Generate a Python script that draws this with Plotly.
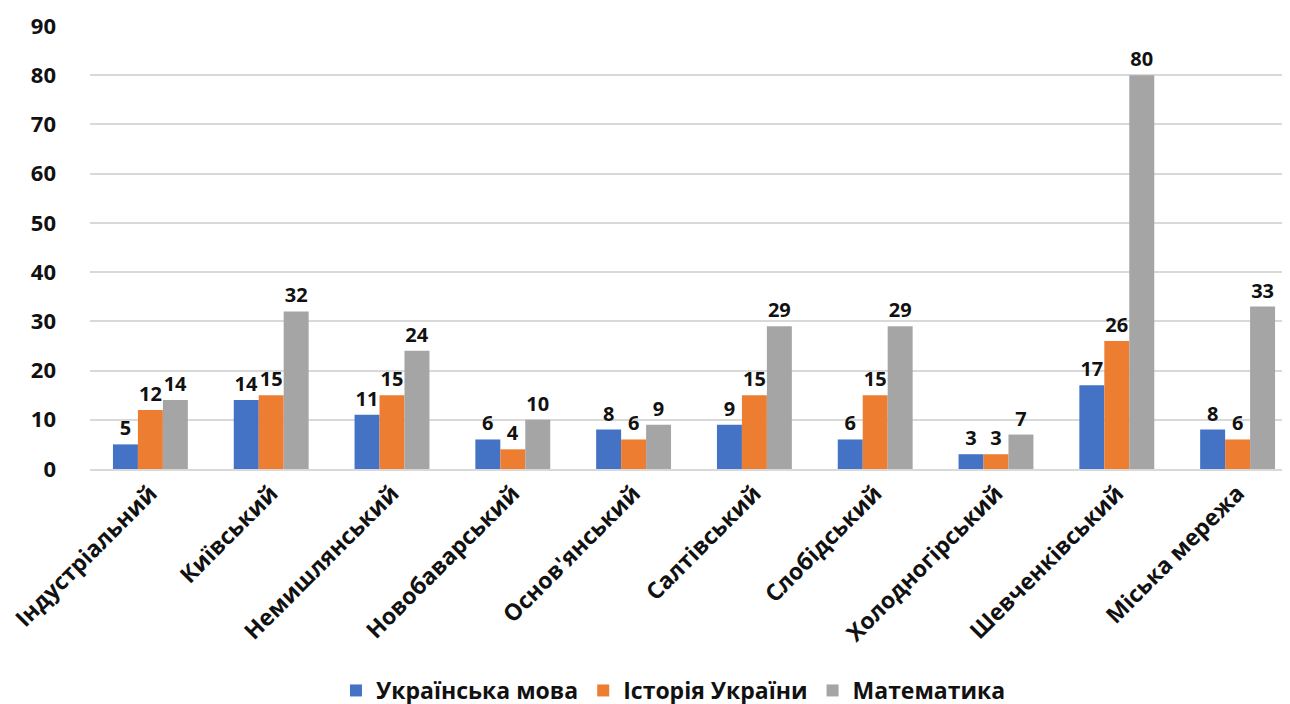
import plotly.graph_objects as go

categories = ["Індустріальний", "Київський", "Немишлянський", "Новобаварський",
              "Основ'янський", "Салтівський", "Слобідський", "Холодногірський",
              "Шевченківський", "Міська мережа"]
ukr_mova = [5, 14, 11, 6, 8, 9, 6, 3, 17, 8]
istoriya = [12, 15, 15, 4, 6, 15, 15, 3, 26, 6]
matematyka = [14, 32, 24, 10, 9, 29, 29, 7, 80, 33]
series_names = ["Українська мова", "Історія України", "Математика"]
colors = ["#4472C4", "#ED7D31", "#A5A5A5"]

FONT = "Open Sans"

fig = go.Figure()
for name, vals, col in zip(series_names, [ukr_mova, istoriya, matematyka], colors):
    fig.add_trace(go.Bar(
        x=categories, y=vals, name=name,
        marker=dict(color=col, line=dict(width=0)),
        text=[str(v) for v in vals], textposition="outside",
        textfont=dict(family=FONT, size=20, color="#111111", weight="bold"),
        constraintext="none", cliponaxis=False,
    ))

fig.update_layout(
    width=1290, height=704,
    barmode="group", bargap=0.38, bargroupgap=0,
    plot_bgcolor="white", paper_bgcolor="white",
    margin=dict(l=80, r=0, t=18, b=242),
    font=dict(family=FONT, color="#111111"),
    legend=dict(orientation="h", x=0.483, xanchor="center", y=-0.5, yanchor="middle",
                font=dict(family=FONT, size=23, weight="bold"),
                itemwidth=30, traceorder="normal"),
    xaxis=dict(tickangle=-45, tickfont=dict(family=FONT, size=23, weight="bold"),
               showline=True, linecolor="#d9d9d9", linewidth=1.5, ticks=""),
    yaxis=dict(range=[0, 90], dtick=10, showgrid=True, gridcolor="#d9d9d9", gridwidth=1.5,
               zeroline=False, tickfont=dict(family=FONT, size=22, weight="bold"),
               ticklabelstandoff=33),
)

fig.write_html("out.html")
